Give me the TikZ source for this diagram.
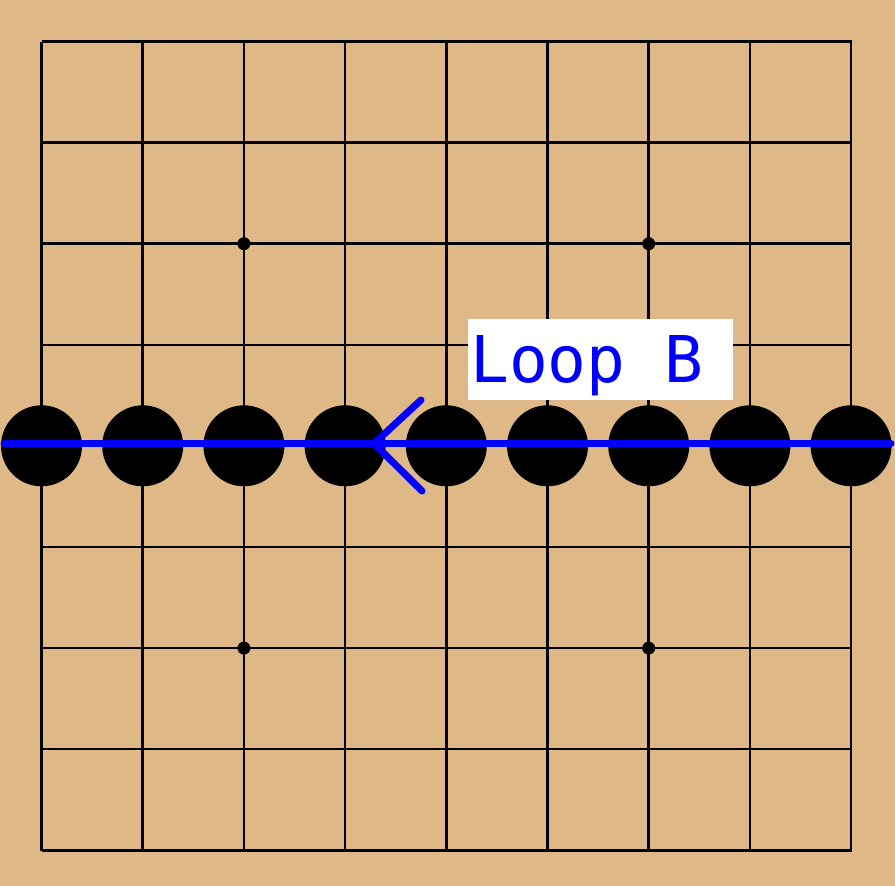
\documentclass[tikz,border=0pt]{standalone}
\usepackage{fontspec}
\newfontfamily\labelfont{DejaVu Sans Mono}
\definecolor{board}{RGB}{222,184,135}
\begin{document}
\begin{tikzpicture}[x=1pt,y=-1pt,
  gridline/.style={line width=2.5pt,black},
  stone/.style={circle,fill=black,minimum size=81pt,inner sep=0pt},
  hoshi/.style={circle,fill=black,minimum size=13pt,inner sep=0pt},
  loopline/.style={line width=7pt,blue,line cap=round,line join=round},
  looplabel/.style={fill=white,anchor=base west,inner xsep=2pt,inner ysep=0pt,text height=63pt,text depth=18pt,text=blue,font=\labelfont\fontsize{64.5}{64.5}\selectfont}]
\fill[board] (0,0) rectangle (895,886);
\useasboundingbox (0,0) rectangle (895,886);
\foreach \i in {0,...,8}{
  \draw[gridline] (41.5+\i*101.2,41.5) -- (41.5+\i*101.2,850.5);
  \draw[gridline] (41.5,41.5+\i*101.1) -- (851.5,41.5+\i*101.1);
}
\foreach \a/\b in {2/2,6/2,2/6,6/6}{
  \node[hoshi] (h\a\b) at (41.5+\a*101.2,41.5+\b*101.1) {};
}
\foreach \i in {0,...,8}{
  \node[stone] (s\i) at (41.5+\i*101.2,445.8) {};
}
\coordinate (lstart) at (4,443.5);
\coordinate (lend) at (891,443.5);
\coordinate (tip) at (374,443.5);
\coordinate (armA) at (421,400);
\coordinate (armB) at (422,491);
\draw[loopline] (lstart) -- (lend);
\draw[loopline] (armA) -- (tip) -- (armB);
\node[looplabel] (lbl) at (468,382) {Loop B\hspace*{28pt}};
\end{tikzpicture}
\end{document}
